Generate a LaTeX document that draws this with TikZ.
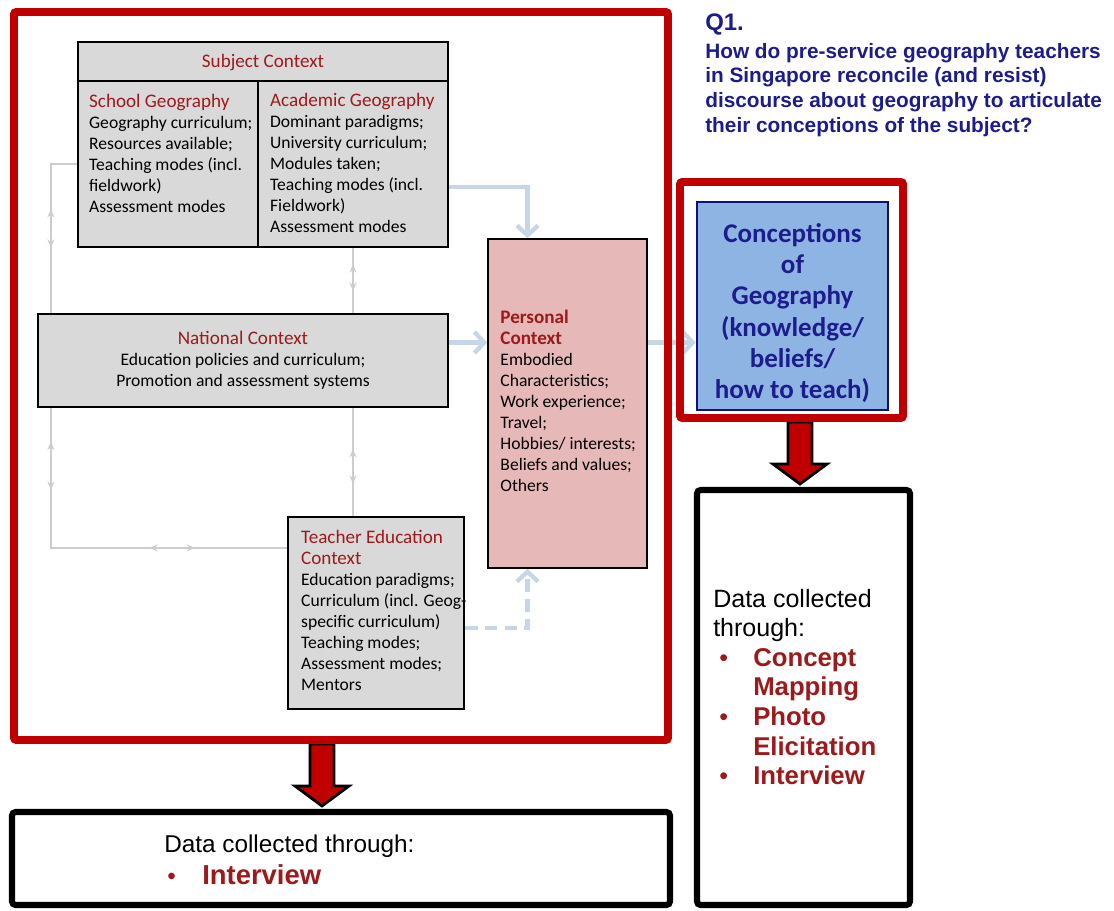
\documentclass[tikz,border=0pt]{standalone}
\usepackage{fontspec}
\setmainfont{Carlito}
\newfontfamily\arialfont{Liberation Sans}
\usetikzlibrary{calc,fit,arrows.meta,backgrounds,decorations.markings}
\definecolor{framered}{HTML}{C00000}
\definecolor{titlered}{HTML}{9C1A1C}
\definecolor{boxgrey}{HTML}{D9D9D9}
\definecolor{personalpink}{HTML}{E6B9B8}
\definecolor{conceptblue}{HTML}{8EB4E3}
\definecolor{navyborder}{HTML}{10107A}
\definecolor{navytext}{HTML}{1C1C8C}
\definecolor{linkgrey}{HTML}{CDCDCD}
\definecolor{linkblue}{HTML}{C6D5E8}
\newlength{\pxu}
\setlength{\pxu}{0.025cm}
\newcommand{\ctxhead}[1]{\textcolor{titlered}{\fontsize{13.6}{14.9}\selectfont #1}}
\newcommand{\dataitem}[1]{\hspace*{6\pxu}\makebox[34\pxu][l]{\textcolor{titlered}{\textbullet}}\textcolor{titlered}{\bfseries\fontsize{18.3}{21}\selectfont #1}}
\newcommand{\datamore}[1]{\hspace*{40\pxu}\textcolor{titlered}{\bfseries\fontsize{18.3}{21}\selectfont #1}}

\begin{document}
\begin{tikzpicture}[x=0.025cm,y=-0.025cm,
  ctxbox/.style={draw=black, line width=1.6pt, inner sep=0pt},
  ctxtext/.style={inner sep=0pt, align=left, anchor=north west, font=\fontsize{12.5}{14.9}\selectfont},
  redframe/.style={draw=framered, line width=5.5pt, rounded corners=1.5pt, inner sep=0pt},
  databox/.style={draw=black, line width=4.3pt, rounded corners=2.5pt, fill=white, inner sep=0pt},
  datatext/.style={inner sep=0pt, align=left, anchor=north west, font=\arialfont\fontsize{17.8}{21}\selectfont},
  greylink/.style={color=linkgrey, line width=1.3pt},
  bluelink/.style={draw=linkblue, line width=3pt, -{Straight Barb[length=7pt,width=15pt]}},
  fatarrow/.style={fill=framered, draw=black, line width=2pt, line join=miter},
  twoway/.tip={Stealth[length=6pt,width=5pt]}]
\useasboundingbox (0,0) rectangle (1114,910);

% outer frames
\node[redframe, fit={(14,12) (668,740)}] (mainframe) {};
\node[redframe, fit={(680,182) (903,418)}] (conframe) {};

% subject context
\node[ctxbox, fill=boxgrey, fit={(78,42) (448,81)}] (subject) {};
\node[inner sep=0pt] at ([shift={(0,1)}]subject.center) {\ctxhead{Subject Context}};
\node[ctxbox, fill=boxgrey, fit={(78,81) (258,247)}] (school) {};
\node[ctxtext] at ([shift={(12,14)}]school.north west) {\ctxhead{School Geography}\\
  Geography curriculum;\\ Resources available;\\ Teaching modes (incl.\\ fieldwork)\\ Assessment modes};
\node[ctxbox, fill=boxgrey, fit={(258,81) (448,247)}] (academic) {};
\node[ctxtext] at ([shift={(13,13)}]academic.north west) {\ctxhead{Academic Geography}\\
  Dominant paradigms;\\ University curriculum;\\ Modules taken;\\ Teaching modes (incl.\\ Fieldwork)\\ Assessment modes};

% national context
\node[ctxbox, fill=boxgrey, fit={(38,314) (448,407)}] (national) {};
\node[ctxtext, anchor=center, align=center] at (national.center) {\ctxhead{National Context}\\
  Education policies and curriculum;\\ Promotion and assessment systems};

% personal context
\node[ctxbox, line width=1.2pt, fill=personalpink, fit={(488,239) (647,568)}] (personal) {};
\node[ctxtext] at ([shift={(13,72)}]personal.north west) {\ctxhead{\bfseries Personal}\\ \ctxhead{\bfseries Context}\\
  Embodied\\ Characteristics;\\ Work experience;\\ Travel;\\ Hobbies/ interests;\\ Beliefs and values;\\ Others};

% teacher education context
\node[ctxbox, fill=boxgrey, fit={(288,517) (464,709)}] (teacher) {};
\node[ctxtext] at ([shift={(14,14)}]teacher.north west) {\ctxhead{Teacher Education}\\ \ctxhead{Context}\\
  Education paradigms;\\ Curriculum (incl. Geog-\\ specific curriculum)\\ Teaching modes;\\ Assessment modes;\\ Mentors};

% conceptions
\node[draw=navyborder, line width=2pt, fill=conceptblue, inner sep=0pt, fit={(697,202) (888,410)}] (concept) {};
\node[inner sep=0pt, align=center, text=navytext, font=\bfseries\fontsize{19.2}{22.2}\selectfont]
  at ([shift={(0,7)}]concept.center) {Conceptions\\ of\\ Geography\\ (knowledge/\\ beliefs/\\ how to teach)};

% research question
\node[anchor=base west, inner sep=0pt, text=navytext, font=\arialfont\bfseries\fontsize{17}{20}\selectfont] (qlabel) at (705,30) {Q1.};
\node[anchor=north west, inner sep=0pt, align=left, text=navytext, font=\arialfont\bfseries\fontsize{14.8}{17.5}\selectfont]
  (question) at (705,43) {How do pre-service geography teachers\\ in Singapore reconcile (and resist)\\
  discourse about geography to articulate\\ their conceptions of the subject?};

% data collection
\node[databox, fit={(697,490) (910,905)}] (datacon) {};
\node[datatext] at ([shift={(19,102)}]datacon.north west) {Data collected\\ through:\\
  \dataitem{Concept}\\ \datamore{Mapping}\\ \dataitem{Photo}\\ \datamore{Elicitation}\\ \dataitem{Interview}};
\node[databox, fit={(12,812) (670,905)}] (datamain) {};
\node[datatext, font=\arialfont\fontsize{17.3}{22.8}\selectfont] at ([shift={(155,26)}]datamain.north west) {Data collected through:\\
  \hspace*{3\pxu}\makebox[35\pxu][l]{\textcolor{titlered}{\textbullet}}\textcolor{titlered}{\bfseries\fontsize{19.5}{22.8}\selectfont Interview}};

\begin{scope}[on background layer]
  % grey two-way links
  \draw[greylink, postaction={decorate, decoration={markings,
      mark=at position 0.11 with {\arrowreversed{twoway}},
      mark=at position 0.17 with {\arrow{twoway}},
      mark=at position 0.47 with {\arrowreversed{twoway}},
      mark=at position 0.545 with {\arrow{twoway}},
      mark=at position 0.787 with {\arrowreversed{twoway}},
      mark=at position 0.858 with {\arrow{twoway}}}}]
    (school.west) -- ++(-26,0) |- ([shift={(0,32)}]teacher.north west);
  \draw[greylink, postaction={decorate, decoration={markings,
      mark=at position 0.06 with {\arrowreversed{twoway}},
      mark=at position 0.16 with {\arrow{twoway}},
      mark=at position 0.75 with {\arrowreversed{twoway}},
      mark=at position 0.88 with {\arrow{twoway}}}}]
    (academic.south) -- (academic.south |- teacher.north);
  % links into personal context
  \path ([shift={(0,-18)}]national.east) coordinate (natout)
        ([shift={(0,-61)}]personal.east) coordinate (persout)
        ([shift={(0,15)}]teacher.east) coordinate (teachout);
  \draw[bluelink] ([shift={(0,23)}]academic.east) -| ([shift={(-40,0)}]personal.north);
  \draw[bluelink] (natout) -- (natout -| personal.west);
  \draw[bluelink] (persout) -- (persout -| concept.west);
  \draw[bluelink, dash pattern=on 9pt off 5pt] (teachout) -| ([shift={(-40,0)}]personal.south);
  % red arrows down to the data boxes
  \foreach \src/\dst/\ax in {conframe/datacon/800, mainframe/datamain/322}{
    \path (\src.south -| \ax,0) coordinate (top) (\dst.north -| \ax,0) coordinate (tip);
    \filldraw[fatarrow] ($(top)+(-12,0)$) -- ($(tip)+(-12,-23)$) -- ($(tip)+(-27,-23)$) -- ($(tip)+(0,-3)$)
      -- ($(tip)+(27,-23)$) -- ($(tip)+(12,-23)$) -- ($(top)+(12,0)$) -- cycle;
  }
\end{scope}
\end{tikzpicture}
\end{document}
